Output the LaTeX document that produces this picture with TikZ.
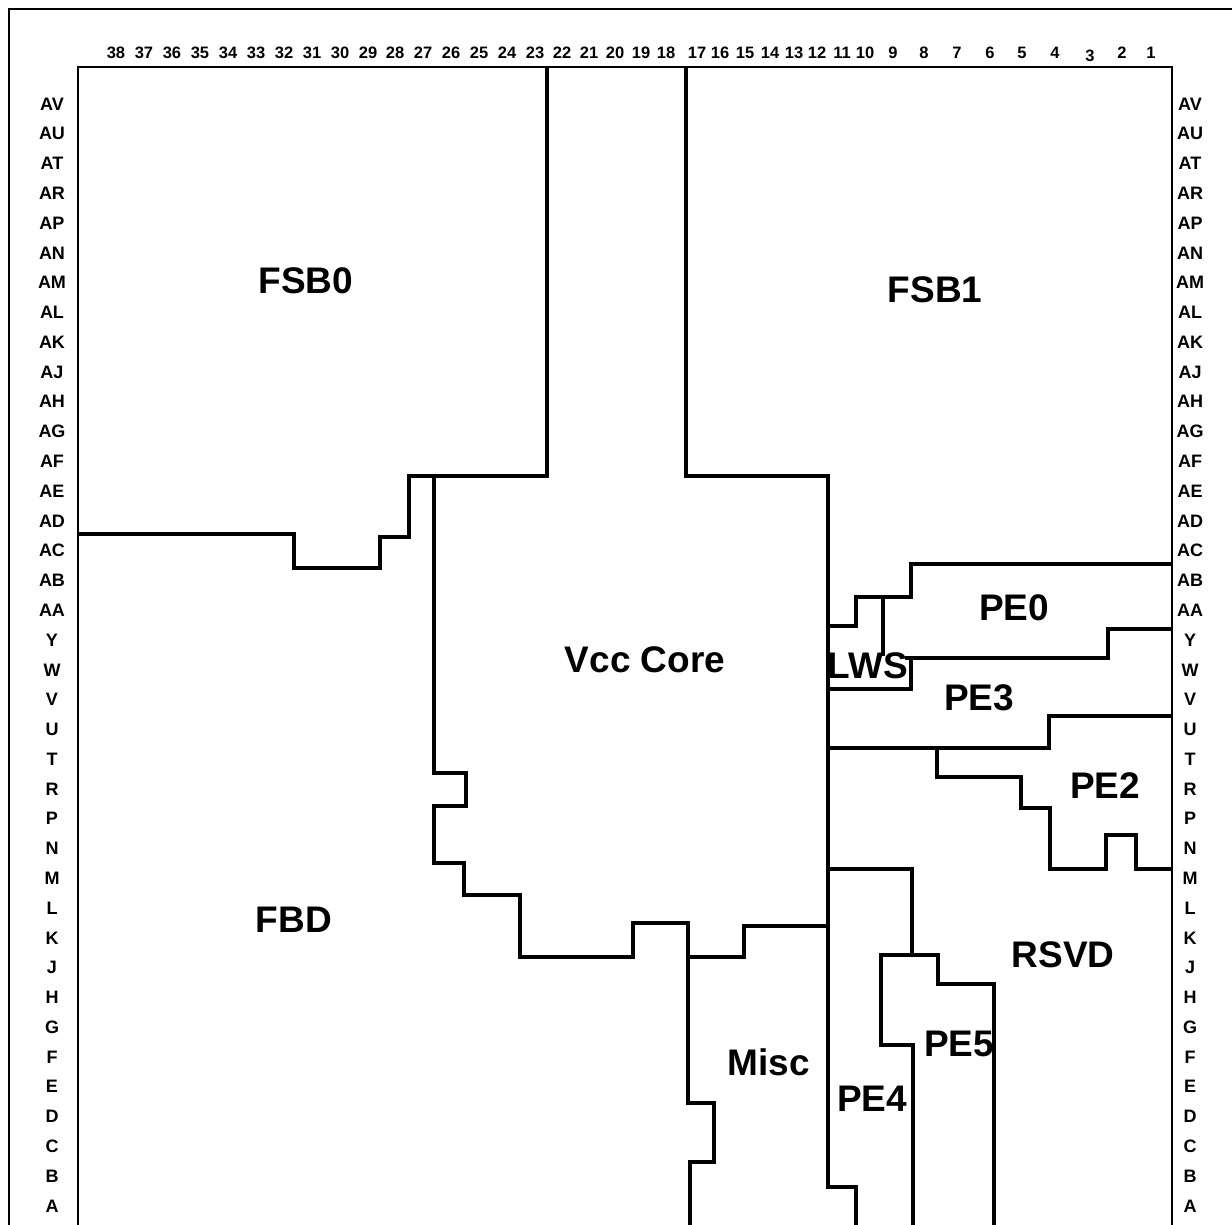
\documentclass[tikz,border=0pt]{standalone}
\usepackage{fontspec}
\setmainfont{Liberation Sans}
\begin{document}
\begin{tikzpicture}[x=1pt,y=-1pt,
  wall/.style={line width=3.3pt, line join=miter},
  frameline/.style={line width=2.8pt},
  dieedge/.style={line width=1.4pt},
  rowlbl/.style={font=\fontsize{18}{18}\selectfont\bfseries, inner sep=0pt, anchor=center},
  collbl/.style={font=\fontsize{16.5}{17}\selectfont\bfseries, inner sep=0pt, anchor=center},
  reglbl/.style={font=\fontsize{37}{37}\selectfont\bfseries, inner sep=0pt, anchor=center}]
\clip (0,0) rectangle (1232,1224);
\fill[white] (0,0) rectangle (1232,1224);
% outer frame and die edge
\draw[frameline] (9,1300) -- (9,9) -- (1300,9);
\draw[dieedge] (78,1300) -- (78,67) -- (1172,67) -- (1172,1300);
% row labels
\foreach \l [count=\i from 0] in {AV,AU,AT,AR,AP,AN,AM,AL,AK,AJ,AH,AG,AF,AE,AD,AC,AB,AA,Y,W,V,U,T,R,P,N,M,L,K,J,H,G,F,E,D,C,B,A} {
  \node[rowlbl] (L\l) at (52,104+\i*29.78) {\l};
  \node[rowlbl] (R\l) at (1190,104+\i*29.78) {\l};
}
% column labels
\foreach \n/\x in {38/116,37/144,36/172,35/200,34/228,33/256,32/284,31/312,30/340,29/368,28/395,27/423,26/451,25/479,24/507,23/535,
  22/562,21/589,20/615,19/641,18/666,17/697,16/720,15/745,14/770,13/794,12/817,11/842,10/865,
  9/893,8/924,7/957,6/990,5/1022,4/1055,2/1122,1/1151} {
  \node[collbl] (C\n) at (\x,53) {\n};
}
\node[collbl] (C3) at (1090,56) {3};
% region boundaries
\draw[wall] (547,67) -- (547,476) -- (409,476) -- (409,537) -- (380,537) -- (380,568) -- (294,568) -- (294,534) -- (78,534);
\draw[wall] (434,476) -- (434,773) -- (466,773) -- (466,806) -- (434,806) -- (434,863) -- (464,863) -- (464,895) -- (520,895) -- (520,957) -- (633,957) -- (633,923) -- (688,923) -- (688,957) -- (744,957) -- (744,926) -- (828,926);
\draw[wall] (686,67) -- (686,476) -- (828,476) -- (828,1187) -- (856,1187) -- (856,1240);
\draw[wall] (688,957) -- (688,1103) -- (714,1103) -- (714,1162) -- (690,1162) -- (690,1240);
\draw[wall] (828,869) -- (912,869) -- (912,955);
\draw[wall] (938,955) -- (881,955) -- (881,1045) -- (913,1045) -- (913,1240);
\draw[wall] (881,955) -- (938,955) -- (938,984) -- (994,984) -- (994,1240);
\draw[wall] (828,626) -- (856,626) -- (856,597) -- (911,597) -- (911,564) -- (1172,564);
\draw[wall] (883,597) -- (883,656);
\draw[wall] (905,658) -- (1108,658) -- (1108,629) -- (1172,629);
\draw[wall] (828,689) -- (911,689) -- (911,658);
\draw[wall] (828,748) -- (1049,748) -- (1049,716) -- (1172,716);
\draw[wall] (937,748) -- (937,777) -- (1021,777) -- (1021,808) -- (1050,808) -- (1050,869) -- (1106,869) -- (1106,835) -- (1136,835) -- (1136,869) -- (1172,869);
% region labels
\node[reglbl] (fsb0) at (306,281) {FSB0};
\node[reglbl] (fsb1) at (935,290) {FSB1};
\node[reglbl] (vcc) at (645,660) {Vcc Core};
\node[reglbl] (lws) at (868,666) {LWS};
\node[reglbl] (pe0) at (1014,608) {PE0};
\node[reglbl] (pe3) at (979,698) {PE3};
\node[reglbl] (pe2) at (1105,786) {PE2};
\node[reglbl] (fbd) at (294,920) {FBD};
\node[reglbl] (rsvd) at (1063,955) {RSVD};
\node[reglbl] (misc) at (769,1062) {Misc};
\node[reglbl] (pe5) at (959,1044) {PE5};
\node[reglbl] (pe4) at (872,1099) {PE4};
\end{tikzpicture}
\end{document}
